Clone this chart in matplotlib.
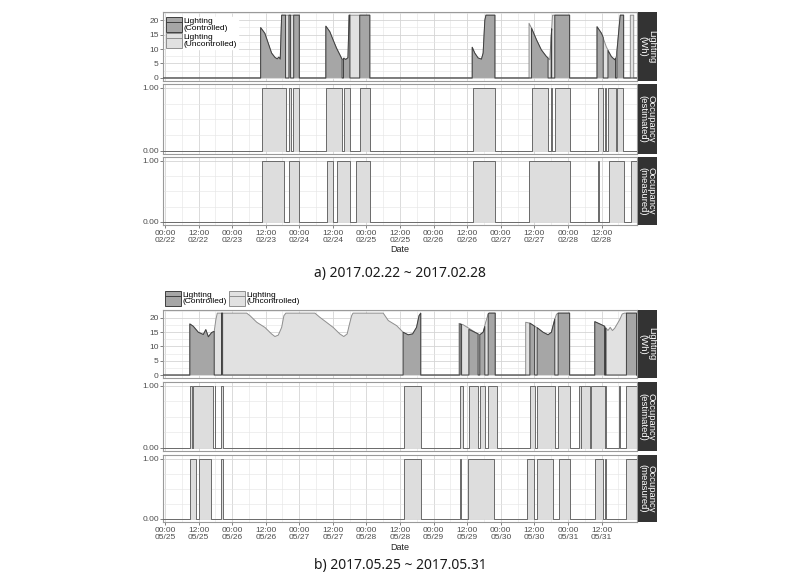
import matplotlib
matplotlib.use('Agg')
import matplotlib.pyplot as plt
from matplotlib.patches import Patch
from matplotlib.lines import Line2D
from matplotlib.legend_handler import HandlerTuple

plt.rcParams['font.family'] = ['Liberation Sans', 'DejaVu Sans']

# ---------------- data ----------------
days_a = ['02/22', '02/23', '02/24', '02/25', '02/26', '02/27', '02/28']
days_b = ['05/25', '05/26', '05/27', '05/28', '05/29', '05/30', '05/31']
hours_labels = ['00:00', '12:00']
caption_a = 'a) 2017.02.22 ~ 2017.02.28'
caption_b = 'b) 2017.05.25 ~ 2017.05.31'
strip_labels = ['Lighting\n(Wh)', 'Occupancy\n(estimated)', 'Occupancy\n(measured)']
legend_labels = ['Lighting\n(Controlled)', 'Lighting\n(Uncontrolled)']
x_label = 'Date'

# time = hours since 00:00 of first day; lighting in Wh
a_unc_t = [
    [34.2, 35.7, 36.9, 38.1, 39.3, 40.1, 40.7, 41.2, 41.7, 48.0],
    [57.5, 58.9, 60.1, 61.3, 62.5, 63.4, 64.0, 64.6, 65.4, 65.8, 73.2],
    [109.8, 110.7, 111.9, 113.1, 113.7, 114.3, 114.7, 117.9],
    [130.1, 131.0, 132.8, 134.5, 136.3, 137.5, 138.0, 138.5, 144.6],
    [154.4, 156.0, 157.7, 159.5, 160.7, 161.3, 162.3, 162.7, 163.9],
    [166.3, 167.5],
]
a_unc_v = [
    [17.4, 15.4, 12.0, 8.6, 7.1, 6.6, 7.2, 6.5, 21.7, 21.7],
    [17.9, 16.0, 13.1, 10.3, 8.0, 6.3, 6.9, 6.4, 7.0, 21.7, 21.7],
    [10.6, 8.6, 6.9, 6.5, 8.6, 19.9, 21.7, 21.7],
    [18.9, 17.2, 13.1, 9.7, 7.4, 6.3, 14.0, 21.7, 21.7],
    [17.7, 15.4, 10.8, 7.4, 6.3, 7.4, 17.7, 21.7, 21.7],
    [21.7, 21.7],
]
a_ctl_t = [
    [34.2, 35.7, 36.9, 38.1, 39.3, 40.1, 40.7, 41.2, 41.7, 43.1],
    [44.3, 44.9],
    [46.0, 48.0],
    [57.5, 58.9, 60.1, 61.3, 62.5, 63.3],
    [63.8, 64.6, 65.4, 65.8, 66.1],
    [69.6, 73.2],
    [109.8, 110.7, 111.9, 113.1, 113.7, 114.3, 114.7, 117.9],
    [131.0, 132.8, 134.5, 136.3, 136.9],
    [138.0, 138.2],
    [139.3, 144.6],
    [154.4, 156.0, 156.6],
    [158.3, 159.5, 160.7, 161.0],
    [161.5, 162.3, 162.7, 163.9],
]
a_ctl_v = [
    [17.4, 15.4, 12.0, 8.6, 7.1, 6.6, 7.2, 6.5, 21.7, 21.7],
    [21.7, 21.7],
    [21.7, 21.7],
    [17.9, 16.0, 13.1, 10.3, 8.0, 6.4],
    [6.8, 6.4, 7.0, 21.7, 21.7],
    [21.7, 21.7],
    [10.6, 8.6, 6.9, 6.5, 8.6, 19.9, 21.7, 21.7],
    [17.2, 13.1, 9.7, 7.4, 6.9],
    [14.0, 17.0],
    [21.7, 21.7],
    [17.7, 15.4, 14.0],
    [9.5, 7.4, 6.3, 6.8],
    [9.0, 17.7, 21.7, 21.7],
]
a_est_start = [34.5, 44.3, 45.8, 57.7, 63.8, 69.6, 110.1, 131.2, 138.0, 139.3, 154.8, 157.3, 158.3, 161.5]
a_est_end = [43.1, 44.9, 47.9, 63.3, 66.1, 73.2, 117.9, 136.9, 138.2, 144.6, 156.6, 157.45, 161.0, 163.7]
a_mea_start = [34.5, 44.3, 58.0, 61.3, 68.1, 110.1, 130.1, 154.8, 158.7, 166.7]
a_mea_end = [42.5, 47.9, 60.1, 66.3, 73.2, 117.9, 144.6, 155.0, 163.9, 168.5]

b_unc_t = [
    [8.9, 10.1, 11.9, 13.7, 14.6, 15.5, 16.7, 17.6, 18.2, 18.7,
     29.2, 30.4, 32.8, 35.7, 38.1, 39.3, 40.5, 41.7, 42.5, 43.2,
     53.6, 55.4, 57.7, 60.1, 62.5, 63.9, 65.1, 65.8, 66.7, 67.2,
     78.0, 79.8, 82.8, 85.1, 86.9, 88.5, 89.9, 90.8, 91.4],
    [105.1, 106.6, 108.9, 111.3, 112.5, 113.7, 114.6, 115.5, 115.8, 118.0],
    [128.9, 130.3, 132.8, 135.1, 136.9, 138.1, 139.3, 139.9, 140.5, 144.6],
    [153.6, 155.4, 157.1, 158.3, 159.1, 159.9, 160.7, 162.5, 163.4, 164.2, 168.5],
]
b_unc_v = [
    [17.9, 17.1, 15.0, 14.2, 15.9, 13.4, 14.9, 15.3, 19.5, 21.7,
     21.7, 20.8, 18.5, 16.7, 14.4, 13.5, 14.0, 16.7, 20.8, 21.7,
     21.7, 20.2, 18.5, 16.7, 14.4, 13.5, 14.4, 17.3, 20.8, 21.7,
     21.7, 19.1, 17.3, 15.0, 14.1, 14.4, 16.7, 20.8, 21.7],
    [18.1, 17.6, 16.2, 14.7, 14.1, 15.0, 18.5, 21.4, 21.7, 21.7],
    [18.5, 18.2, 16.7, 15.0, 14.1, 15.0, 19.6, 21.3, 21.7, 21.7],
    [18.7, 17.9, 17.1, 15.6, 16.7, 15.6, 16.4, 19.4, 21.4, 21.7, 21.7],
]
b_ctl_t = [
    [8.9, 10.1, 11.9, 13.7, 14.6, 15.5, 16.7, 17.6],
    [20.2, 20.6],
    [85.1, 86.9, 88.5, 89.9, 90.8, 91.4],
    [105.4, 106.0],
    [108.6, 111.3, 111.9],
    [112.5, 113.7, 114.3],
    [115.5, 115.8, 118.0],
    [130.4, 132.1],
    [133.0, 135.1, 136.9, 138.1, 139.3],
    [140.5, 144.6],
    [153.6, 155.4, 157.1],
    [157.4, 157.6],
    [164.9, 168.5],
]
b_ctl_v = [
    [17.9, 17.1, 15.0, 14.2, 15.9, 13.4, 14.9, 15.3],
    [21.7, 21.7],
    [15.0, 14.1, 14.4, 16.7, 20.8, 21.7],
    [17.9, 17.7],
    [16.0, 14.7, 14.4],
    [14.1, 15.0, 17.0],
    [21.4, 21.7, 21.7],
    [18.2, 17.1],
    [16.6, 15.0, 14.1, 15.0, 19.6],
    [21.7, 21.7],
    [18.7, 17.9, 17.1],
    [16.5, 16.2],
    [21.7, 21.7],
]
b_est_start = [8.9, 9.9, 17.8, 20.2, 85.5, 105.4, 108.6, 112.5, 115.5, 130.4, 133.0, 140.5,
               147.9, 148.8, 152.4, 157.4, 162.4, 164.9]
b_est_end = [9.5, 17.3, 18.0, 20.6, 91.4, 106.6, 111.9, 114.3, 118.6, 132.1, 139.3, 144.6,
             148.5, 151.8, 157.1, 157.6, 162.6, 168.5]
b_mea_start = [8.9, 12.3, 20.2, 85.5, 105.5, 108.3, 129.4, 133.1, 140.7, 153.6, 157.4, 164.9]
b_mea_end = [11.1, 16.3, 20.6, 91.4, 105.8, 117.6, 131.9, 138.7, 144.6, 156.4, 157.6, 168.5]

# ---------------- style ----------------
W, H = 800, 580
XMIN, XMAX = -0.7, 168.5
C_CTL_FILL, C_CTL_LINE = '#a6a6a6', '#3f3f3f'
C_UNC_FILL, C_UNC_LINE = '#e1e1e1', '#8e8e8e'
C_OCC_FILL, C_OCC_LINE = '#dddddd', '#6a6a6a'
TICK_C = '#4d4d4d'

fig = plt.figure(figsize=(W / 100, H / 100), dpi=100)
fig.patch.set_facecolor('white')


def add_ax(x0, y0, x1, y1):
    return fig.add_axes([x0 / W, 1 - y1 / H, (x1 - x0) / W, (y1 - y0) / H])


def light_series(times_list, vals_list):
    t, v = [XMIN], [0.0]
    for ts, vs in zip(times_list, vals_list):
        t += [ts[0]] + list(ts) + [ts[-1]]
        v += [0.0] + list(vs) + [0.0]
    t.append(XMAX)
    v.append(0.0)
    return t, v


def occ_series(starts, ends):
    t, v = [XMIN], [0.0]
    for s, e in zip(starts, ends):
        t += [s, s, e, e]
        v += [0, 1, 1, 0]
    t.append(XMAX)
    v.append(0.0)
    return t, v


def style_ax(ax, kind, bottom, days):
    ax.set_xlim(XMIN, XMAX)
    major = [12 * i for i in range(2 * len(days))]
    minor = [6 + 12 * i for i in range(2 * len(days))]
    ax.set_xticks(major)
    ax.set_xticks(minor, minor=True)
    if kind == 'light':
        ax.set_ylim(-1.05, 22.8)
        ax.set_yticks([0, 5, 10, 15, 20])
        ax.set_yticklabels(['0', '5', '10', '15', '20'])
        ax.set_yticks([2.5, 7.5, 12.5, 17.5, 22.5], minor=True)
    else:
        ax.set_ylim(-0.05, 1.06)
        ax.set_yticks([0, 1])
        ax.set_yticklabels(['0.00', '1.00'])
        ax.set_yticks([0.25, 0.5, 0.75], minor=True)
    ax.grid(which='major', color='#d4d4d4', lw=0.6)
    ax.grid(which='minor', color='#e6e6e6', lw=0.45)
    ax.set_axisbelow(True)
    for s in ax.spines.values():
        s.set_color('#9a9a9a')
        s.set_linewidth(0.8)
    ax.tick_params(axis='y', which='major', labelsize=6, colors=TICK_C, length=2, width=0.5, pad=1)
    ax.tick_params(axis='y', which='minor', length=0)
    ax.tick_params(axis='x', which='minor', length=0)
    if bottom:
        labels = [f'{hh}\n{d}' for d in days for hh in hours_labels]
        ax.set_xticklabels(labels, linespacing=0.95)
        ax.tick_params(axis='x', which='major', labelsize=6, colors=TICK_C, length=2, width=0.5, pad=1.5)
    else:
        ax.tick_params(axis='x', which='major', labelbottom=False, length=0)


def strip(y0, y1, text):
    sa = add_ax(637.5, y0, 656.5, y1)
    sa.set_facecolor('#333333')
    sa.set_xticks([])
    sa.set_yticks([])
    for s in sa.spines.values():
        s.set_visible(False)
    sa.text(0.5, 0.5, text, rotation=270, ha='center', va='center', color='white',
            fontsize=6.8, linespacing=0.95, transform=sa.transAxes)


def draw_block(rows, days, unc_t, unc_v, ctl_t, ctl_v, est_s, est_e, mea_s, mea_e):
    axes = []
    for i, (y0, y1) in enumerate(rows):
        ax = add_ax(163, y0, 636.5, y1)
        kind = 'light' if i == 0 else 'occ'
        style_ax(ax, kind, i == 2, days)
        strip(y0, y1, strip_labels[i])
        axes.append(ax)
    ax = axes[0]
    t, v = light_series(unc_t, unc_v)
    ax.fill(t, v, facecolor=C_UNC_FILL, edgecolor='none', zorder=2)
    ax.plot(t, v, color=C_UNC_LINE, lw=0.7, zorder=3)
    t, v = light_series(ctl_t, ctl_v)
    ax.fill(t, v, facecolor=C_CTL_FILL, edgecolor='none', zorder=4)
    ax.plot(t, v, color=C_CTL_LINE, lw=0.7, zorder=5)
    for ax, (s, e) in zip(axes[1:], [(est_s, est_e), (mea_s, mea_e)]):
        t, v = occ_series(s, e)
        ax.fill(t, v, facecolor=C_OCC_FILL, edgecolor='none', zorder=2)
        ax.plot(t, v, color=C_OCC_LINE, lw=0.7, zorder=3)
    return axes


handles = [
    (Patch(facecolor=C_CTL_FILL, edgecolor=C_CTL_LINE, lw=0.7), Line2D([], [], color=C_CTL_LINE, lw=0.7)),
    (Patch(facecolor=C_UNC_FILL, edgecolor=C_UNC_LINE, lw=0.7), Line2D([], [], color=C_UNC_LINE, lw=0.7)),
]
hmap = {tuple: HandlerTuple(ndivide=1, pad=0.0)}

# ---- figure a ----
axes_a = draw_block([(12, 81), (84, 154), (157, 225)], days_a,
                    a_unc_t, a_unc_v, a_ctl_t, a_ctl_v,
                    a_est_start, a_est_end, a_mea_start, a_mea_end)
leg = axes_a[0].legend(handles, legend_labels, handler_map=hmap,
                       loc='upper left', bbox_to_anchor=(0.0, 0.97), fontsize=6, frameon=True,
                       fancybox=False, framealpha=1, edgecolor='white', handlelength=1.9,
                       handleheight=2.4, handletextpad=0.15, labelspacing=0.1, borderpad=0.1,
                       borderaxespad=0.3)
leg.set_zorder(10)
for txt in leg.get_texts():
    txt.set_linespacing(0.95)
fig.text(400 / W, 1 - 250 / H, x_label, ha='center', va='center', fontsize=6.5, color='#222222')
fig.text(400 / W, 1 - 273 / H, caption_a, ha='center', va='center', fontsize=10,
         family=['Noto Sans', 'DejaVu Sans'], color='#1a1a1a')

# ---- figure b ----
axes_b = draw_block([(310, 378), (382, 451), (455, 522)], days_b,
                    b_unc_t, b_unc_v, b_ctl_t, b_ctl_v,
                    b_est_start, b_est_end, b_mea_start, b_mea_end)
leg2 = fig.legend(handles, legend_labels, handler_map=hmap,
                  loc='upper left', bbox_to_anchor=(165 / W, 1 - 291 / H), ncol=2, fontsize=6,
                  frameon=False, handlelength=1.9, handleheight=2.4, handletextpad=0.15,
                  columnspacing=0.3, borderpad=0.0, borderaxespad=0.0)
for txt in leg2.get_texts():
    txt.set_linespacing(0.95)
fig.text(400 / W, 1 - 547 / H, x_label, ha='center', va='center', fontsize=6.5, color='#222222')
fig.text(400 / W, 1 - 565 / H, caption_b, ha='center', va='center', fontsize=10,
         family=['Noto Sans', 'DejaVu Sans'], color='#1a1a1a')

fig.savefig('out.png', dpi=100, facecolor='white')
